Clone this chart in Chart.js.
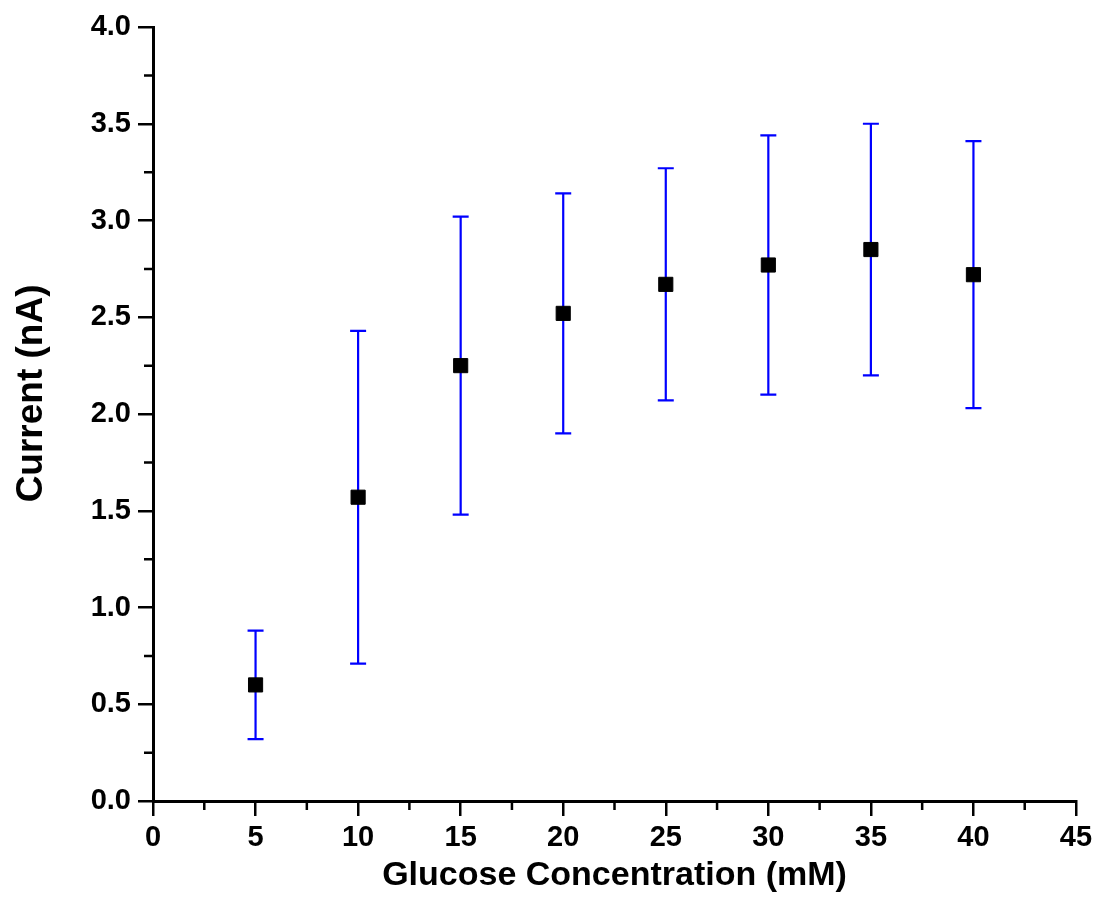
<!DOCTYPE html>
<html>
<head>
<meta charset="utf-8">
<title>Glucose response</title>
<script src="https://cdn.jsdelivr.net/npm/chart.js@4.4.1/dist/chart.umd.min.js"></script>
<style>
  html, body { margin: 0; padding: 0; background: #fff; }
  #wrap { width: 1106px; height: 920px; }
</style>
</head>
<body>
<div id="wrap"><canvas id="chart" width="1106" height="920"></canvas></div>
<script>
// Data
const concentration = [5, 10, 15, 20, 25, 30, 35, 40];
const current = [0.60, 1.57, 2.25, 2.52, 2.67, 2.77, 2.85, 2.72];
const currentErr = [0.28, 0.86, 0.77, 0.62, 0.60, 0.67, 0.65, 0.69];
const xMinorTicks = [2.5, 7.5, 12.5, 17.5, 22.5, 27.5, 32.5, 37.5, 42.5];
const yMinorTicks = [0.25, 0.75, 1.25, 1.75, 2.25, 2.75, 3.25, 3.75];

const FONT = "'Liberation Sans', Arial, sans-serif";

// Error bars drawn under the markers
const errorBars = {
    id: 'errorBars',
    beforeDatasetsDraw(chart) {
        const { ctx, scales: { x, y } } = chart;
        ctx.save();
        ctx.strokeStyle = '#0000ff';
        ctx.lineWidth = 2.2;
        concentration.forEach((c, i) => {
            const px = x.getPixelForValue(c);
            const top = y.getPixelForValue(current[i] + currentErr[i]);
            const bot = y.getPixelForValue(current[i] - currentErr[i]);
            ctx.beginPath();
            ctx.moveTo(px, top); ctx.lineTo(px, bot);
            ctx.moveTo(px - 8, top); ctx.lineTo(px + 8, top);
            ctx.moveTo(px - 8, bot); ctx.lineTo(px + 8, bot);
            ctx.stroke();
        });
        ctx.restore();
    }
};

// Minor ticks, outward
const minorTicks = {
    id: 'minorTicks',
    afterDraw(chart) {
        const { ctx, scales: { x, y } } = chart;
        ctx.save();
        ctx.strokeStyle = '#000';
        ctx.lineWidth = 2.5;
        ctx.beginPath();
        xMinorTicks.forEach(v => {
            const px = x.getPixelForValue(v);
            ctx.moveTo(px, y.bottom); ctx.lineTo(px, y.bottom + 9);
        });
        yMinorTicks.forEach(v => {
            const py = y.getPixelForValue(v);
            ctx.moveTo(x.left, py); ctx.lineTo(x.left - 9, py);
        });
        ctx.stroke();
        ctx.restore();
    }
};

new Chart(document.getElementById('chart'), {
    type: 'scatter',
    data: {
        datasets: [{
            data: concentration.map((c, i) => ({ x: c, y: current[i] })),
            pointStyle: 'rect',
            pointRadius: 10,
            pointHoverRadius: 10,
            backgroundColor: '#000',
            borderColor: '#000',
            borderWidth: 1
        }]
    },
    options: {
        responsive: false,
        animation: false,
        devicePixelRatio: 1,
        layout: { padding: { left: 10, top: 27, right: 30, bottom: 24 } },
        plugins: { legend: { display: false }, tooltip: { enabled: false } },
        scales: {
            x: {
                type: 'linear',
                min: 0, max: 45,
                afterFit: s => { s.height = 920 - 801 - 24; },
                border: { display: true, color: '#000', width: 3 },
                grid: { drawOnChartArea: false, drawTicks: true, tickLength: 15, color: '#000', lineWidth: 2.5 },
                ticks: { stepSize: 5, color: '#000', padding: 5, font: { family: FONT, size: 29, weight: 'bold' } },
                title: { display: true, text: 'Glucose Concentration (mM)', color: '#000', padding: { top: 0, bottom: 0 },
                         font: { family: FONT, size: 34, weight: 'bold' } }
            },
            y: {
                type: 'linear',
                min: 0, max: 4,
                afterFit: s => { s.width = 153 - 10; },
                border: { display: true, color: '#000', width: 3 },
                grid: { drawOnChartArea: false, drawTicks: true, tickLength: 15, color: '#000', lineWidth: 2.5 },
                ticks: { stepSize: 0.5, color: '#000', padding: 7, callback: v => v.toFixed(1),
                         font: { family: FONT, size: 29, weight: 'bold' } },
                title: { display: true, text: '    Current (nA)', color: '#000', padding: { top: 0, bottom: 0 },
                         font: { family: FONT, size: 37, weight: 'bold' } }
            }
        }
    },
    plugins: [errorBars, minorTicks]
});
</script>
</body>
</html>
